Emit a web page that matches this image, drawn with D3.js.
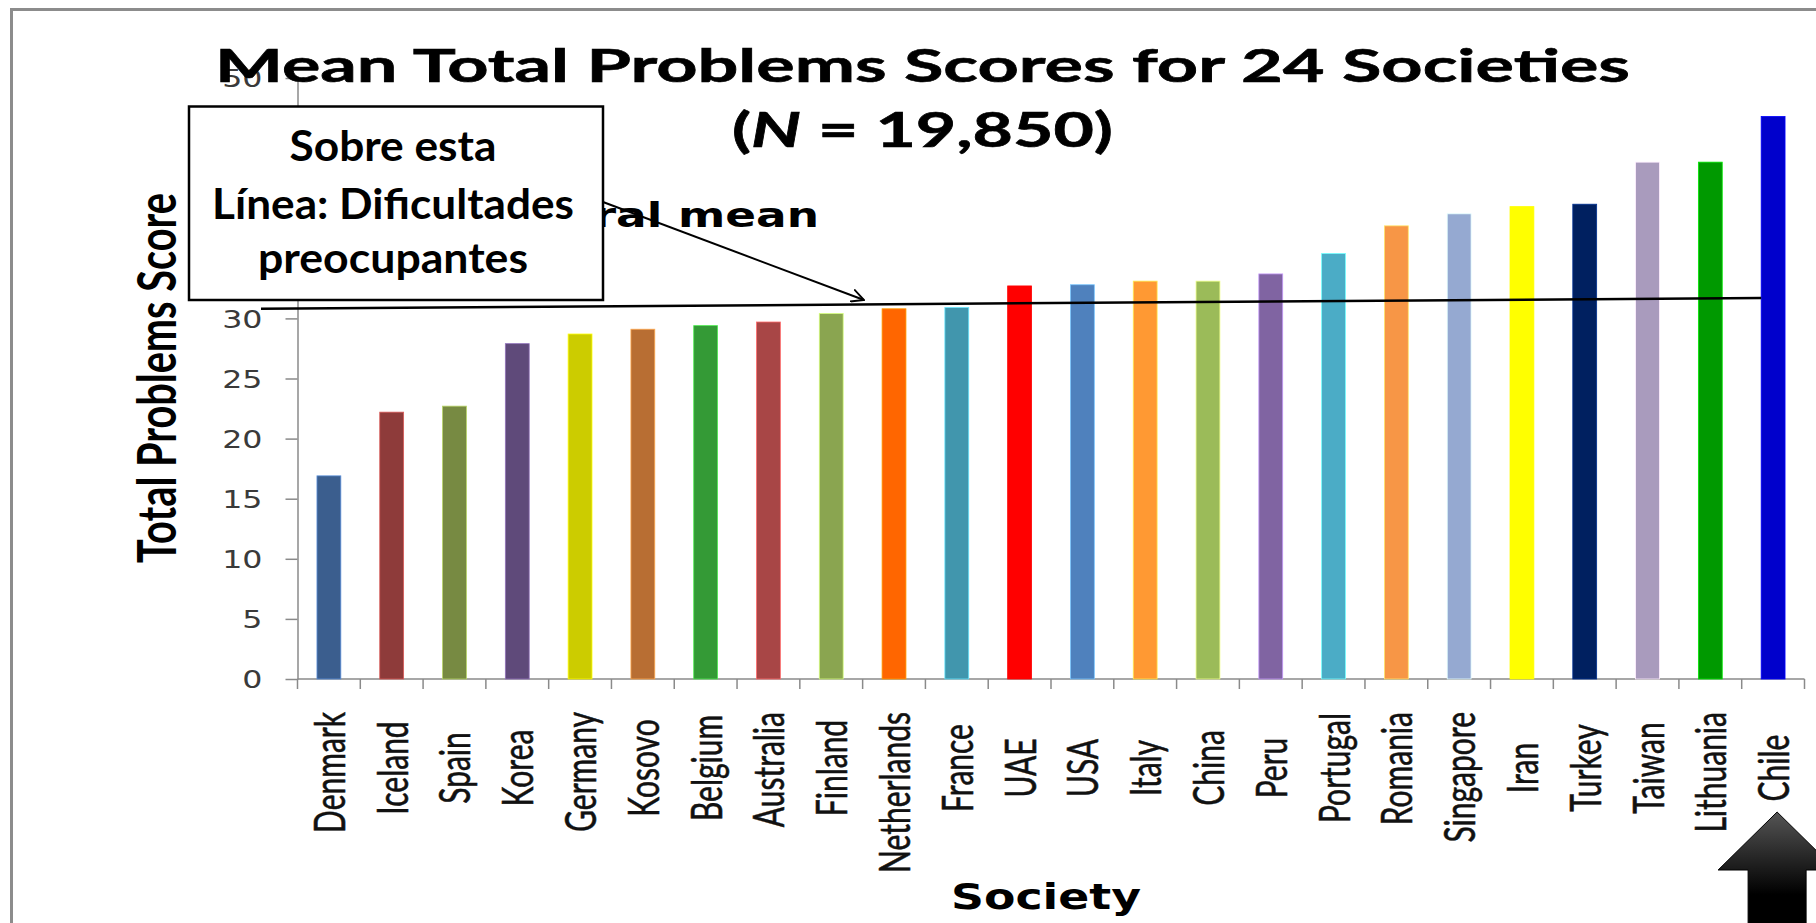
<!DOCTYPE html>
<html>
<head>
<meta charset="utf-8">
<script src="https://d3js.org/d3.v7.min.js"></script>
<style>
  body { margin: 0; background: #fff; }
  svg { display: block; }
</style>
</head>
<body>
<svg id="vis" width="1816" height="923"></svg>
<script>
// ---- data ----
const societies = ["Denmark", "Iceland", "Spain", "Korea", "Germany", "Kosovo", "Belgium",
  "Australia", "Finland", "Netherlands", "France", "UAE", "USA", "Italy", "China", "Peru",
  "Portugal", "Romania", "Singapore", "Iran", "Turkey", "Taiwan", "Lithuania", "Chile"];
const scores = [16.9, 22.2, 22.7, 27.9, 28.7, 29.1, 29.4, 29.7, 30.4, 30.8, 30.9, 32.7,
  32.8, 33.1, 33.1, 33.7, 35.4, 37.7, 38.7, 39.3, 39.5, 43.0, 43.0, 46.8];
const barColors = ["#3b5e8e", "#8e3b3a", "#778a42", "#5f4a7a", "#cccc00", "#b86e33", "#349a36",
  "#a84646", "#8aa550", "#ff6600", "#4196ad", "#ff0000", "#4f81bd", "#ff9933", "#9bbb59",
  "#8064a2", "#4bacc6", "#f79646", "#95a9d1", "#ffff00", "#002060", "#a99bbd", "#009900", "#0000cc"];
const yTicks = [0, 5, 10, 15, 20, 25, 30, 35, 40, 45, 50];
const meanLine = [30.8, 31.7];   // hand drawn line, left end / right end
const titleText = "Mean Total Problems Scores for 24 Societies";
const boxLines = ["Sobre esta", "Línea: Dificultades", "preocupantes"];

const svg = d3.select("#vis");
const sx = 1.32;   // the original picture is stretched sideways

const x = d3.scaleBand().domain(societies).range([297.5, 1804.5])
  .paddingInner(0.62).paddingOuter(0.31);
const y = d3.scaleLinear().domain([0, 50]).range([679, 78]);
const step = x.step();

// outer frame
svg.append("path")
  .attr("d", "M11.5,923V9.5H1816")
  .attr("fill", "none").attr("stroke", "#8c8c8c").attr("stroke-width", 3);

// y axis
const yAxis = svg.append("g")
  .attr("transform", `translate(${x.range()[0]},0)`)
  .call(d3.axisLeft(y).tickValues(yTicks).tickSize(12).tickSizeOuter(0));
yAxis.select(".domain").attr("stroke", "#8a8a8a").attr("stroke-width", 1.5);
yAxis.selectAll(".tick line").attr("stroke", "#8a8a8a").attr("stroke-width", 1.5);
yAxis.selectAll(".tick text")
  .attr("font-family", "DejaVu Sans").attr("font-size", 24).attr("fill", "#3a3a3a")
  .attr("x", -35 / sx).attr("dy", "0.36em")
  .attr("transform", `scale(${sx},1)`);

// x axis
const xAxis = svg.append("g");
xAxis.append("line")
  .attr("x1", x.range()[0]).attr("x2", x.range()[1])
  .attr("y1", y(0)).attr("y2", y(0))
  .attr("stroke", "#8a8a8a").attr("stroke-width", 1.5);
xAxis.selectAll("line.tk").data(d3.range(societies.length + 1)).join("line")
  .attr("class", "tk")
  .attr("x1", i => x.range()[0] + i * step).attr("x2", i => x.range()[0] + i * step)
  .attr("y1", y(0)).attr("y2", y(0) + 10)
  .attr("stroke", "#8a8a8a").attr("stroke-width", 1.5);

// bars
svg.append("g").selectAll("rect").data(societies).join("rect")
  .attr("x", d => x(d))
  .attr("width", x.bandwidth())
  .attr("y", (d, i) => y(scores[i]))
  .attr("height", (d, i) => y(0) - y(scores[i]))
  .attr("fill", (d, i) => barColors[i])
  .attr("stroke", (d, i) => d3.color(barColors[i]).brighter(1.2))
  .attr("stroke-width", 0.8);

// mean line
svg.append("line")
  .attr("x1", x.range()[0] - 36.5).attr("y1", y(meanLine[0]))
  .attr("x2", x("Chile")).attr("y2", y(meanLine[1]))
  .attr("stroke", "#000").attr("stroke-width", 2.5);

// title
svg.append("text")
  .attr("x", 922.5).attr("y", 81.5)
  .attr("text-anchor", "middle")
  .attr("font-family", "Lato").attr("font-weight", "bold").attr("font-size", 46)
  .attr("stroke", "#000").attr("stroke-width", 0.6)
  .attr("textLength", 1415).attr("lengthAdjust", "spacingAndGlyphs")
  .text(titleText);

const sub = svg.append("text")
  .attr("x", 922.5).attr("y", 147)
  .attr("text-anchor", "middle")
  .attr("font-family", "Lato").attr("font-weight", "bold").attr("font-size", 47)
  .attr("stroke", "#000").attr("stroke-width", 0.6)
  .attr("textLength", 381).attr("lengthAdjust", "spacingAndGlyphs");
sub.append("tspan").text("(");
sub.append("tspan").attr("font-style", "italic").text("N");
sub.append("tspan").text(" = 19,850)");

// "omnicultural mean" label, mostly under the box
const om = svg.append("text")
  .attr("x", 819).attr("y", 226.5)
  .attr("text-anchor", "end")
  .attr("font-family", "DejaVu Sans").attr("font-weight", "bold").attr("font-size", 33)
  .text("Omnicultural mean");
{
  const n = om.node();
  const full = n.getComputedTextLength();
  const mean = n.getSubStringLength(13, 4);
  om.attr("textLength", full * 141 / mean).attr("lengthAdjust", "spacingAndGlyphs");
}

// annotation box
svg.append("rect")
  .attr("x", 189).attr("y", 106.5).attr("width", 414).attr("height", 193.5)
  .attr("fill", "#fff").attr("stroke", "#000").attr("stroke-width", 2.5);
const boxBase = [161, 219, 273];
const boxWidth = [207, 362, 270];
svg.append("g").selectAll("text").data(boxLines).join("text")
  .attr("x", 393).attr("y", (d, i) => boxBase[i])
  .attr("text-anchor", "middle")
  .attr("font-family", "Lato").attr("font-weight", "bold").attr("font-size", 42)
  .attr("textLength", (d, i) => boxWidth[i]).attr("lengthAdjust", "spacingAndGlyphs")
  .text(d => d);

// arrow from box to line
svg.append("defs").append("marker")
  .attr("id", "open").attr("viewBox", "0 -6 12 12")
  .attr("refX", 11).attr("refY", 0)
  .attr("markerWidth", 14).attr("markerHeight", 14).attr("markerUnits", "userSpaceOnUse")
  .attr("orient", "auto")
  .append("path").attr("d", "M0,-5.5L11,0L0,5.5")
  .attr("fill", "none").attr("stroke", "#000").attr("stroke-width", 1.6);
svg.append("line")
  .attr("x1", 603).attr("y1", 202).attr("x2", 864).attr("y2", 300)
  .attr("stroke", "#000").attr("stroke-width", 2)
  .attr("marker-end", "url(#open)");

// category labels
const labels = svg.append("g").selectAll("text").data(societies).join("text")
  .attr("font-family", "Lato").attr("font-size", 30).attr("fill", "#111")
  .attr("stroke", "#111").attr("stroke-width", 0.4)
  .attr("text-anchor", "middle")
  .text(d => d);
labels.each(function (d) {
  const len = this.getComputedTextLength();
  const cy = Math.max(768, 712 + len / 2);
  d3.select(this).attr("transform",
    `translate(${x(d) + x.bandwidth() / 2 + 16},${cy}) scale(1.42,1) rotate(-90)`);
});

// axis titles
svg.append("text")
  .attr("transform", `translate(176,378) scale(${sx},1) rotate(-90)`)
  .attr("text-anchor", "middle")
  .attr("font-family", "Lato").attr("font-weight", "bold").attr("font-size", 40)
  .attr("textLength", 370).attr("lengthAdjust", "spacingAndGlyphs")
  .text("Total Problems Score");

svg.append("text")
  .attr("x", 1046).attr("y", 909)
  .attr("text-anchor", "middle")
  .attr("font-family", "DejaVu Sans").attr("font-weight", "bold").attr("font-size", 36)
  .attr("textLength", 190).attr("lengthAdjust", "spacingAndGlyphs")
  .text("Society");

// big block arrow under Chile
const grad = svg.select("defs").append("linearGradient")
  .attr("id", "blk").attr("x1", 0).attr("y1", 0).attr("x2", 0).attr("y2", 1);
grad.append("stop").attr("offset", "0%").attr("stop-color", "#555");
grad.append("stop").attr("offset", "70%").attr("stop-color", "#000");
const cx = x("Chile") + x.bandwidth() / 2 + 4;
svg.append("path")
  .attr("d", `M${cx},812 L${cx + 59},870 L${cx + 29},870 L${cx + 29},930 L${cx - 29},930 L${cx - 29},870 L${cx - 59},870 Z`)
  .attr("fill", "url(#blk)").attr("stroke", "#000").attr("stroke-width", 1);
</script>
</body>
</html>
